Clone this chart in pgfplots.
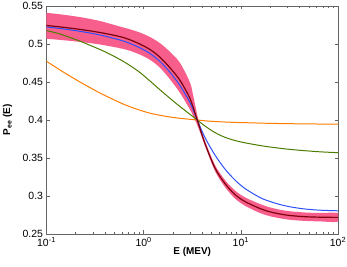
\documentclass[border=0pt]{standalone}
\usepackage{pgfplots}
\pgfplotsset{compat=1.18}
\usepackage{fontspec}
\setmainfont{Liberation Sans}
\definecolor{bandpink}{RGB}{247,94,140}
\definecolor{darkred}{RGB}{125,0,10}
\definecolor{myblue}{RGB}{45,80,250}
\definecolor{mygreen}{RGB}{77,125,0}
\definecolor{myorange}{RGB}{255,125,0}
\definecolor{axgray}{RGB}{100,100,100}
\begin{document}
\begin{tikzpicture}
\path[use as bounding box] (0,0) rectangle (347bp,267bp);
\begin{axis}[
  at={(46.5bp,33bp)}, anchor=south west,
  scale only axis, width=291.5bp, height=228bp,
  xmode=log, xmin=0.1, xmax=100, ymin=0.25, ymax=0.55,
  xtick={0.1,1,10,100},
  xticklabels={10\textsuperscript{-1},10\textsuperscript{0},10\textsuperscript{1},10\textsuperscript{2}},
  ytick={0.25,0.3,0.35,0.4,0.45,0.5,0.55},
  yticklabels={0.25,0.3,0.35,0.4,0.45,0.5,0.55},
  tick align=inside,
  major tick length=3.5bp, minor tick length=2bp,
  axis line style={axgray, line width=0.8pt},
  tick style={axgray, line width=0.5pt},
  tick label style={font=\fontsize{10.5}{12}\selectfont},
  xlabel={\textbf{E (MEV)}},
  ylabel={\textbf{P\textsubscript{ee} (E)}},
  label style={font=\fontsize{10}{12}\selectfont},
  xlabel style={at={(axis description cs:0.5,-0.079)},anchor=center},
  ylabel style={at={(axis description cs:-0.134,0.5)},anchor=center},
]
\addplot[fill=bandpink, draw=none, smooth] coordinates {
(0.1,0.54105) (0.1377,0.53908) (0.2212,0.53539) (0.3552,0.53026) (0.5705,0.52289) (0.7228,0.51934) (0.9160,0.515) (1.161,0.50921) (1.472,0.50105) (1.865,0.48974) (2.363,0.47526) (2.995,0.44934) (3.238,0.43184) (3.560,0.40658) (3.886,0.38842) (4.272,0.37263) (5.415,0.34079) (6.862,0.32105) (8.699,0.30724) (11.02,0.29829) (15.72,0.28947) (19.93,0.285) (25.26,0.28197) (32.00,0.27987) (45.65,0.27829) (65.14,0.27763) (100,0.27737)
(100,0.26632) (65.14,0.26658) (45.65,0.26724) (32.00,0.26868) (25.26,0.27066) (19.93,0.27342) (15.72,0.27763) (11.02,0.28724) (8.699,0.29671) (6.862,0.31184) (5.415,0.33289) (4.272,0.36605) (3.886,0.38053) (3.560,0.39342) (3.238,0.40487) (2.995,0.41382) (2.363,0.43579) (1.865,0.45355) (1.472,0.46882) (1.161,0.47921) (0.9160,0.48605) (0.7228,0.49105) (0.5705,0.49447) (0.3552,0.49934) (0.2212,0.50276) (0.1377,0.50539) (0.1,0.50684)} -- cycle;
\addplot[myorange, line width=1pt, smooth] coordinates {
(0.1,0.47737) (0.1377,0.46579) (0.2212,0.45) (0.3552,0.43553) (0.5705,0.42289) (0.7228,0.4175) (0.9160,0.41289) (1.161,0.40895) (1.472,0.40618) (1.865,0.40395) (2.363,0.40224) (2.995,0.40092) (3.560,0.4) (4.272,0.39895) (5.415,0.39803) (6.862,0.39737) (8.699,0.39684) (12.41,0.39632) (15.72,0.39592) (19.93,0.39559) (32.00,0.39513) (60.23,0.39474) (100,0.39447)};
\addplot[mygreen, line width=1pt, smooth] coordinates {
(0.1,0.51763) (0.1377,0.51316) (0.2212,0.50368) (0.3552,0.49276) (0.45,0.48658) (0.5705,0.4796) (0.7228,0.47171) (0.9160,0.4625) (1.161,0.45132) (1.472,0.43974) (1.865,0.42855) (2.363,0.41776) (2.995,0.4075) (3.560,0.4) (4.272,0.39211) (5.415,0.38342) (6.862,0.37724) (8.699,0.37303) (11.02,0.37) (15.72,0.36645) (19.93,0.36447) (32.00,0.36132) (60.23,0.35842) (100,0.35697)};
\addplot[myblue, line width=1pt, smooth] coordinates {
(0.1,0.52237) (0.1377,0.52039) (0.2212,0.51671) (0.3552,0.51184) (0.5705,0.50526) (0.7228,0.50066) (0.9160,0.495) (1.161,0.4875) (1.472,0.47697) (1.865,0.46276) (2.363,0.44539) (2.995,0.42303) (3.560,0.4) (4.272,0.37697) (5.415,0.35395) (6.862,0.33553) (8.699,0.32105) (11.02,0.30987) (15.72,0.29803) (19.93,0.29276) (25.26,0.28882) (32.00,0.28579) (45.65,0.28289) (65.14,0.28132) (100,0.28053)};
\addplot[darkred, line width=1.2pt, smooth] coordinates {
(0.1,0.52434) (0.1377,0.5225) (0.2212,0.51921) (0.3552,0.51513) (0.5705,0.50974) (0.7228,0.50553) (0.9160,0.49987) (1.161,0.49276) (1.472,0.48263) (1.865,0.46868) (2.363,0.45224) (2.995,0.42829) (3.560,0.4) (4.272,0.36934) (5.415,0.33684) (6.862,0.31645) (8.699,0.30197) (11.02,0.29276) (15.72,0.28355) (19.93,0.27921) (25.26,0.27632) (32.00,0.27434) (45.65,0.27276) (65.14,0.27211) (100,0.27184)};
\end{axis}
\end{tikzpicture}
\end{document}
